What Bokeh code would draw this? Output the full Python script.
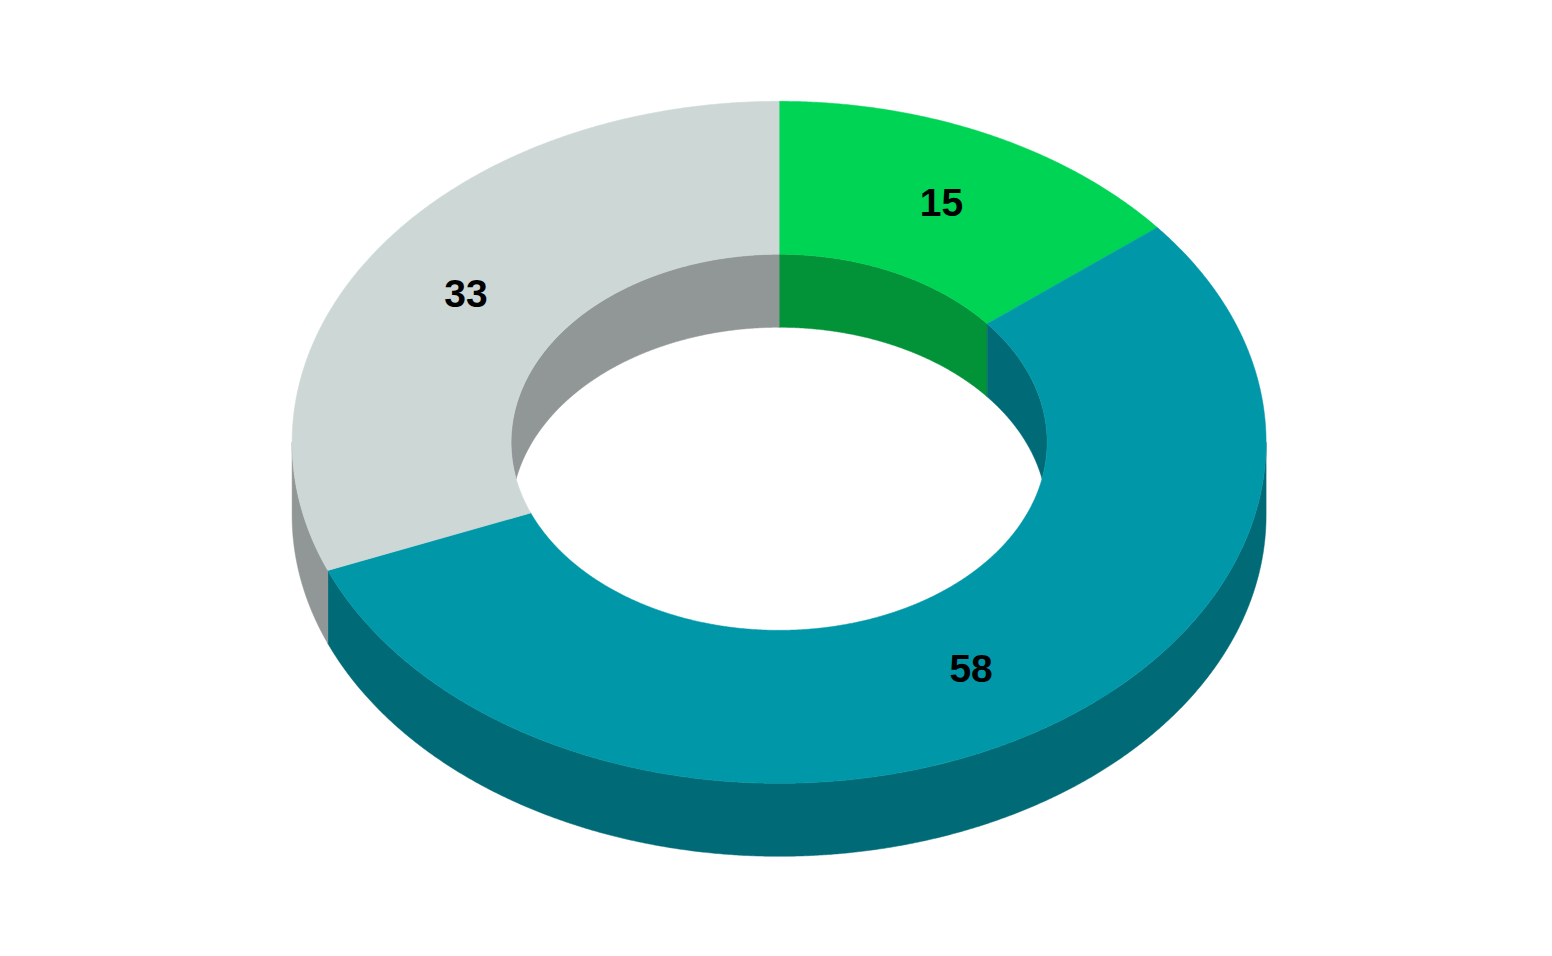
import numpy as np
from bokeh.plotting import figure
from bokeh.models import Range1d
from bokeh.core.properties import value
from bokeh.embed import file_html
from bokeh.resources import INLINE

categories = ["A", "B", "C"]
values = [15, 58, 33]
top_colors = ["#00D455", "#0098A9", "#CDD8D6"]
side_colors = ["#029238", "#006B77", "#919796"]

CX, CY = 778.6, 441.8
RX_O, RY_O = 487.0, 341.0
RX_I, RY_I = 268.0, 188.0
DEPTH = 73.0
FONT_PX = 39
LABEL_DY = -1.5


def pt(theta, rx, ry, dy=0.0):
    t = np.radians(theta)
    return CX + rx * np.sin(t), CY - ry * np.cos(t) + dy


def arc(a, b, rx, ry, dy=0.0):
    n = max(2, int(abs(b - a) * 4) + 2)
    return pt(np.linspace(a, b, n), rx, ry, dy)


def band(a_top, b_top, a_low, b_low, rx, ry):
    x1, y1 = arc(a_top, b_top, rx, ry)
    x2, y2 = arc(b_low, a_low, rx, ry, DEPTH)
    return np.r_[x1, x2].tolist(), np.r_[y1, y2].tolist()


p = figure(width=1552, height=956, x_range=Range1d(0, 1552), y_range=Range1d(956, 0),
           toolbar_location=None, output_backend="svg", min_border=0)
p.axis.visible = False
p.grid.visible = False
p.outline_line_color = None
p.background_fill_color = "white"

total = sum(values)
edges = np.r_[0, np.cumsum(values)] / total * 360.0

# angle at which the hole's top rim meets its shifted bottom rim
lim = np.degrees(np.arccos(-(DEPTH / 2) / RY_I))
lim_low = 180 - lim

xs, ys, cs = [], [], []
for i in range(len(values)):
    a, b = edges[i], edges[i + 1]
    # inner wall, seen on the far side of the hole (theta in -lim..lim)
    for shift in (0, 360):
        lo, hi = max(a, -lim + shift), min(b, lim + shift)
        lo2, hi2 = max(a, -lim_low + shift), min(b, lim_low + shift)
        if lo < hi:
            if lo2 >= hi2:
                lo2 = hi2 = (-lim_low + shift) if shift else lim_low
            x, y = band(lo, hi, lo2, hi2, RX_I, RY_I)
            xs.append(x); ys.append(y); cs.append(side_colors[i])
    # outer wall, near side (theta in 90..270)
    lo, hi = max(a, 90), min(b, 270)
    if lo < hi:
        x, y = band(lo, hi, lo, hi, RX_O, RY_O)
        xs.append(x); ys.append(y); cs.append(side_colors[i])

p.patches(xs, ys, fill_color=cs, line_color=cs, line_width=0.5)

txs, tys = [], []
for i in range(len(values)):
    a, b = edges[i], edges[i + 1]
    x1, y1 = arc(a, b, RX_O, RY_O)
    x2, y2 = arc(b, a, RX_I, RY_I)
    txs.append(np.r_[x1, x2].tolist()); tys.append(np.r_[y1, y2].tolist())
p.patches(txs, tys, fill_color=top_colors, line_color=top_colors, line_width=0.5)

mid = (edges[:-1] + edges[1:]) / 2
lx, ly = pt(mid, (RX_O + RX_I) / 2, (RY_O + RY_I) / 2, LABEL_DY)
p.text(lx.tolist(), ly.tolist(), text=[str(v) for v in values],
       text_font=value("Liberation Sans"), text_font_style="bold",
       text_font_size=f"{FONT_PX}px", text_color="#000000",
       text_align="center", text_baseline="middle")

open("out.html", "w").write(file_html(p, INLINE))
